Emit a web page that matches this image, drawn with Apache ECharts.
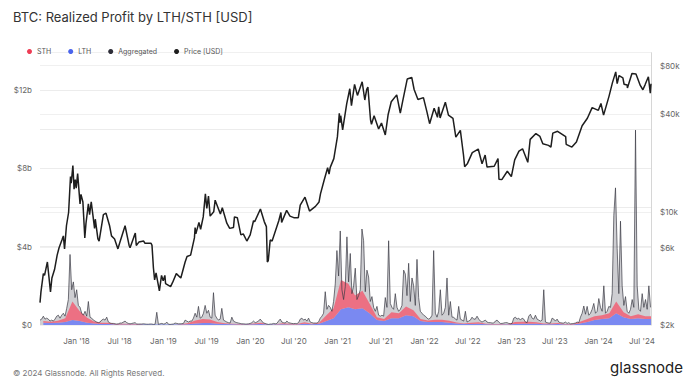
<!DOCTYPE html>
<html><head><meta charset="utf-8">
<script src="https://cdn.jsdelivr.net/npm/echarts@6/dist/echarts.min.js"></script>
<style>html,body{margin:0;padding:0;background:#fff}#c{width:699px;height:379px}</style>
</head><body><div id="c"></div>
<script>
// Weekly aggregated realized profit (billions USD), weeks starting 2017-08-01
const aggregatedB = [
0.25,0.3,0.45,0.3,0.35,0.3,0.2,0.25,0.2,0.3,
0.45,0.5,0.35,0.5,0.6,0.45,0.85,1.3,3.6,1.8,
2.2,1.4,1.8,1.0,0.9,0.6,0.5,0.7,0.45,1.2,
0.4,0.35,0.25,0.2,0.15,0.12,0.15,0.25,0.3,0.25,
0.4,0.15,0.1,0.08,0.08,0.06,0.05,0.06,0.1,0.1,
0.15,0.2,0.12,0.08,0.06,0.08,0.1,0.12,0.05,0.05,
0.05,0.05,0.06,0.05,0.04,0.04,0.05,0.05,0.03,0.04,
0.65,0.03,0.06,0.08,0.05,0.06,0.15,0.04,0.03,0.04,
0.05,0.1,0.08,0.06,0.06,0.07,0.08,0.25,0.2,0.15,
0.2,0.2,0.35,0.6,0.4,0.95,0.35,0.4,0.6,1.0,
0.6,0.75,0.4,0.35,1.65,0.5,0.35,0.25,0.3,0.85,
0.25,0.2,0.15,0.12,0.1,0.4,0.2,0.15,0.12,0.1,
0.08,0.06,0.06,0.05,0.05,0.06,0.08,0.12,0.2,0.12,
0.15,0.2,0.3,0.2,0.1,0.08,0.05,0.03,0.05,0.05,
0.08,0.06,0.08,0.2,0.3,0.15,0.12,0.1,0.2,0.12,
0.1,0.08,0.07,0.08,0.07,0.12,0.3,0.35,0.25,0.3,
0.2,0.35,0.15,0.12,0.1,0.1,0.1,0.15,0.35,0.45,
0.6,1.7,0.8,1.0,0.9,0.7,1.2,2.1,3.8,2.5,
4.8,1.8,1.3,1.95,4.5,2.2,3.65,1.6,2.0,2.9,
1.3,1.5,1.8,4.9,4.3,1.7,2.8,2.45,1.2,1.45,
0.9,0.7,0.95,0.5,0.45,0.5,0.45,1.4,0.9,4.3,
1.1,0.9,0.8,1.6,0.9,0.7,0.8,1.0,2.8,2.6,
1.5,3.15,1.2,2.4,2.0,1.0,3.35,1.4,0.7,0.6,
0.5,0.45,0.35,0.3,0.35,0.5,3.8,0.6,0.4,0.7,
1.8,0.5,0.6,0.9,2.4,0.5,1.2,0.4,0.4,0.3,
0.25,0.95,0.3,0.25,0.2,0.7,0.15,0.2,0.25,0.4,
0.3,0.3,0.45,0.3,0.2,0.15,0.2,0.25,0.15,0.12,
0.12,0.1,0.1,0.2,0.25,0.15,0.08,0.08,0.1,0.12,
0.12,0.08,0.06,0.08,0.35,0.4,0.3,0.35,0.25,0.35,
0.3,0.15,0.12,0.45,0.55,0.35,0.3,0.5,0.3,0.25,
0.2,0.25,1.8,0.15,0.12,0.1,0.1,0.35,0.3,0.2,
0.3,0.15,0.12,0.1,0.1,0.15,0.08,0.12,0.06,0.07,
0.08,0.1,0.15,0.12,0.4,0.6,0.97,0.55,0.95,0.5,
0.6,0.8,1.1,0.6,0.7,1.35,0.9,0.7,2.0,0.6,
0.7,0.95,0.9,1.6,5.6,7.0,3.9,1.6,5.3,2.0,
1.0,1.45,0.7,0.6,0.8,1.3,0.9,9.95,2.0,0.8,
0.7,1.6,0.9,1.3,0.8,2.0,0.9
];
// Monthly (mid-month, from 2017-08-15) LTH and STH realized profit, billions USD
const lthB = [
0.12,0.1,0.12,0.15,0.25,
0.2,0.12,0.08,0.05,0.05,0.03,0.03,0.03,0.03,0.02,0.02,0.02,
0.02,0.02,0.02,0.04,0.08,0.1,0.1,0.07,0.05,0.04,0.03,0.03,
0.04,0.05,0.02,0.02,0.04,0.03,0.03,0.06,0.04,0.06,0.2,0.35,
0.8,0.9,0.8,0.85,0.6,0.25,0.2,0.35,0.35,0.5,0.45,0.2,
0.15,0.15,0.15,0.12,0.08,0.05,0.05,0.06,0.04,0.03,0.03,0.02,
0.05,0.06,0.06,0.06,0.04,0.04,0.05,0.03,0.03,0.08,0.15,0.25,
0.3,0.35,0.6,0.4,0.3,0.35,0.3,0.3
];
const sthB = [
0.08,0.06,0.1,0.2,0.95,
0.5,0.25,0.1,0.06,0.06,0.02,0.04,0.02,0.02,0.01,0.01,0.01,
0.01,0.01,0.02,0.06,0.15,0.2,0.18,0.08,0.04,0.03,0.02,0.01,
0.04,0.06,0.01,0.02,0.05,0.03,0.02,0.08,0.03,0.05,0.3,0.5,
1.5,1.2,0.7,0.9,0.5,0.15,0.1,0.3,0.25,0.45,0.3,0.1,
0.08,0.12,0.12,0.1,0.05,0.03,0.06,0.08,0.03,0.02,0.02,0.02,
0.1,0.1,0.1,0.08,0.04,0.04,0.05,0.02,0.02,0.08,0.15,0.2,
0.2,0.25,0.6,0.25,0.15,0.2,0.15,0.15
];
// BTC price (USD)
const priceDates = [
'2017-08-01','2017-08-05','2017-08-15','2017-08-20','2017-09-01','2017-09-14','2017-09-20','2017-10-01','2017-10-12','2017-10-20',
'2017-11-01','2017-11-07','2017-11-12','2017-11-20','2017-11-29','2017-12-07','2017-12-10','2017-12-17','2017-12-22','2017-12-27',
'2017-12-31','2018-01-06','2018-01-16','2018-01-20','2018-01-28','2018-02-05','2018-02-10','2018-02-20','2018-02-25','2018-03-04',
'2018-03-18','2018-03-21','2018-04-01','2018-04-06','2018-04-24','2018-05-05','2018-05-20','2018-05-28','2018-06-10','2018-06-24',
'2018-07-01','2018-07-24','2018-08-10','2018-08-14','2018-08-30','2018-09-05','2018-09-09','2018-09-20','2018-10-10','2018-10-15',
'2018-11-10','2018-11-14','2018-11-20','2018-11-25','2018-12-01','2018-12-15','2018-12-24','2018-12-31','2019-01-07','2019-01-10',
'2019-01-31','2019-02-08','2019-02-24','2019-03-15','2019-04-02','2019-04-10','2019-04-25','2019-05-11','2019-05-14','2019-05-17',
'2019-05-30','2019-06-06','2019-06-17','2019-06-26','2019-07-02','2019-07-09','2019-07-16','2019-07-31','2019-08-06','2019-08-28',
'2019-09-05','2019-09-24','2019-10-06','2019-10-22','2019-10-26','2019-11-07','2019-11-22','2019-12-02','2019-12-17','2019-12-31',
'2020-01-14','2020-01-19','2020-02-12','2020-02-28','2020-03-08','2020-03-12','2020-03-16','2020-03-24','2020-04-01','2020-04-29',
'2020-05-08','2020-05-11','2020-06-01','2020-06-15','2020-07-01','2020-07-20','2020-07-28','2020-08-17','2020-09-05','2020-09-30',
'2020-10-15','2020-10-21','2020-11-05','2020-11-20','2020-11-26','2020-12-01','2020-12-16','2020-12-31','2021-01-08','2021-01-11',
'2021-01-14','2021-01-22','2021-02-08','2021-02-21','2021-02-28','2021-03-13','2021-03-25','2021-04-14','2021-04-25','2021-05-03',
'2021-05-08','2021-05-19','2021-05-23','2021-06-03','2021-06-22','2021-07-04','2021-07-20','2021-08-01','2021-08-14','2021-09-06',
'2021-09-21','2021-10-01','2021-10-20','2021-11-08','2021-11-18','2021-12-04','2021-12-27','2022-01-10','2022-01-22','2022-02-10',
'2022-02-24','2022-03-01','2022-03-07','2022-03-29','2022-04-11','2022-04-30','2022-05-12','2022-05-31','2022-06-13','2022-06-18',
'2022-06-30','2022-07-20','2022-08-14','2022-08-30','2022-09-12','2022-09-20','2022-10-20','2022-11-05','2022-11-09','2022-11-21',
'2022-12-14','2022-12-31','2023-01-14','2023-02-01','2023-02-16','2023-03-10','2023-03-20','2023-04-13','2023-04-30','2023-05-12',
'2023-06-05','2023-06-15','2023-06-23','2023-07-13','2023-08-16','2023-08-18','2023-09-11','2023-09-30','2023-10-24','2023-11-15',
'2023-12-05','2023-12-31','2024-01-11','2024-01-22','2024-02-14','2024-02-28','2024-03-13','2024-03-19','2024-03-27','2024-04-12',
'2024-04-17','2024-04-30','2024-05-01','2024-05-20','2024-06-06','2024-06-24','2024-07-05','2024-07-14','2024-07-28','2024-08-05',
'2024-08-08'
];
const priceValues = [
2750,3200,4150,4050,4900,3200,3900,4400,5400,6000,
6700,7100,5900,8200,9900,16500,15000,19300,13800,15800,
14000,17200,11200,12800,11500,6900,8500,11200,9600,11500,
7900,9000,6800,6600,9600,9800,8200,7100,6800,5900,
6400,8200,6200,6000,7000,7400,6200,6500,6600,6400,
6400,6200,4500,3800,4200,3250,4050,3750,4050,3600,
3450,3650,4150,3900,4900,5300,5400,6900,8000,7300,
8600,7800,9300,12900,10500,12500,9400,10000,11800,9700,
10600,8500,7900,8000,9300,9200,7200,7300,6600,7200,
8800,8700,10400,8700,8100,4900,5000,6700,6600,8800,
9900,8600,10200,9400,9200,9200,11000,12300,10100,10800,
11500,12900,15600,18700,17100,18800,21300,29000,40600,35500,
39200,32000,46400,57500,45200,61200,52300,63500,49000,57000,
58800,37000,34700,39200,32500,35300,29800,39900,47800,52700,
40700,48200,66000,67500,56900,49400,50700,41800,35000,43600,
38300,44400,38000,47500,39500,37700,28900,31800,22500,19000,
19900,23200,24400,19800,22400,18900,19100,21300,15900,15800,
17800,16500,20900,23700,24500,20200,28000,30400,29200,26300,
25700,25100,30600,31400,29100,26100,25100,27000,34000,37800,
44000,42300,46600,39500,51800,62500,73100,61900,69400,67200,
61300,60600,58200,71400,71000,60300,56700,60800,68200,54000,
61700
];
const leftTickLabels = [0, 4e9, 8e9, 12e9];
const leftGrid = [0, 2e9, 4e9, 6e9, 8e9, 10e9, 12e9];
const rightTickLabels = [2000, 6000, 10000, 40000, 80000];
const monthNames = ['Jan','Feb','Mar','Apr','May','Jun','Jul','Aug','Sep','Oct','Nov','Dec'];

function ts(s) { const p = s.split('-').map(Number); return new Date(p[0], p[1] - 1, p[2]).getTime(); }
const aggData = aggregatedB.map((v, i) => [new Date(2017, 7, 1 + 7 * i).getTime(), v * 1e9]);
const lthData = lthB.map((v, i) => [new Date(2017, 7 + i, 15).getTime(), v * 1e9]);
const sthData = sthB.map((v, i) => [new Date(2017, 7 + i, 15).getTime(), v * 1e9]);
const priceData = priceDates.map((d, i) => [ts(d), priceValues[i]]);
const DAY = 864e5;

const FONT = 'Inter, Roboto, sans-serif';
const chart = echarts.init(document.getElementById('c'), null, {renderer: 'svg'});
chart.setOption({
  animation: false,
  backgroundColor: '#fff',
  textStyle: {fontFamily: FONT},
  title: [
    {text: 'BTC: Realized Profit by LTH/STH [USD]', left: 8, top: 5,
     textStyle: {fontSize: 13, fontWeight: 'normal', color: '#333', fontFamily: FONT}},
    {text: '© 2024 Glassnode. All Rights Reserved.', left: 8, top: 364,
     textStyle: {fontSize: 8, fontWeight: 'normal', color: '#777', fontFamily: FONT}},
    {text: 'glassnode', right: 11, top: 355,
     textStyle: {fontSize: 15, fontWeight: 'normal', color: '#222', fontFamily: FONT}}
  ],
  legend: {
    left: 22, top: 43, itemWidth: 5, itemHeight: 5, itemGap: 17, icon: 'circle',
    textStyle: {fontSize: 7, color: '#555', fontFamily: FONT},
    data: ['STH', 'LTH', 'Aggregated', 'Price [USD]']
  },
  grid: {left: 40, right: 48, top: 52.7, bottom: 54},
  xAxis: {
    type: 'time',
    min: new Date(2017, 7, 1).getTime(),
    max: new Date(2024, 7, 8).getTime(),
    minInterval: 180 * DAY, maxInterval: 185 * DAY,
    axisLine: {show: false}, axisTick: {show: false}, splitLine: {show: false},
    axisLabel: {
      color: '#666', fontSize: 8, margin: 12, fontFamily: FONT, hideOverlap: false,
      showMinLabel: false, showMaxLabel: false,
      formatter: v => { const d = new Date(v); return monthNames[d.getMonth()] + " '" + String(d.getFullYear()).slice(2); }
    }
  },
  yAxis: [
    {type: 'value', min: 0, max: 13.9e9, position: 'left',
     axisLine: {show: false}, axisTick: {show: false, customValues: leftGrid},
     axisLabel: {customValues: leftTickLabels, color: '#666', fontSize: 8, margin: 8, fontFamily: FONT,
       formatter: v => v === 0 ? '$0' : '$' + Math.round(v / 1e9) + 'b'},
     splitLine: {lineStyle: {color: '#ececec', width: 1}}},
    {type: 'log', min: 2000, max: 96000, position: 'right',
     axisLine: {show: true, lineStyle: {color: '#d6d6d6', width: 1}},
     axisTick: {show: false, customValues: rightTickLabels.concat([96000])},
     axisLabel: {customValues: rightTickLabels, color: '#666', fontSize: 8, margin: 9, fontFamily: FONT,
       formatter: v => '$' + Math.round(v / 1000) + 'k'},
     splitLine: {lineStyle: {color: '#f0f0f0', width: 1}}}
  ],
  series: [
    {name: 'Aggregated', type: 'line', yAxisIndex: 0, data: aggData, symbol: 'none',
     itemStyle: {color: '#2e2e38'},
     lineStyle: {color: '#3a3a44', width: 0.7},
     areaStyle: {color: 'rgba(100,100,112,0.45)'}},
    {name: 'LTH', type: 'line', yAxisIndex: 0, stack: 'rp', data: lthData, symbol: 'none',
     itemStyle: {color: '#4a64ec'},
     lineStyle: {width: 0},
     areaStyle: {color: '#7585f2', opacity: 0.95}},
    {name: 'STH', type: 'line', yAxisIndex: 0, stack: 'rp', data: sthData, symbol: 'none',
     itemStyle: {color: '#ee3d55'},
     lineStyle: {width: 0},
     areaStyle: {color: '#f0667a', opacity: 0.9}},
    {name: 'Price [USD]', type: 'line', yAxisIndex: 1, data: priceData, symbol: 'none',
     itemStyle: {color: '#1e1e1e'},
     lineStyle: {color: '#1e1e1e', width: 1.5}}
  ]
});
</script>
</body></html>
